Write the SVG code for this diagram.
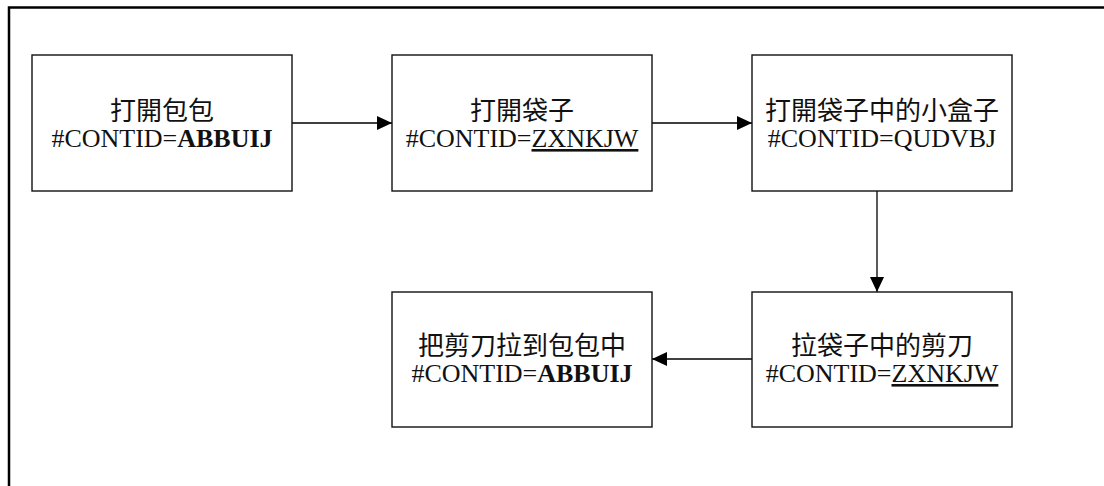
<svg xmlns="http://www.w3.org/2000/svg" width="1104" height="486" viewBox="0 0 1104 486">
<style>
.box{fill:#fff;stroke:#111;stroke-width:1.4}
.t{font-family:"Liberation Serif","Noto Sans CJK TC",serif;font-size:26px;fill:#111;text-anchor:middle}
.b{font-weight:bold}
.c{stroke:#000;stroke-width:1.3;fill:none}
</style>
<defs>
<marker id="ah" viewBox="0 0 15 14" refX="15" refY="7" markerWidth="15" markerHeight="14" markerUnits="userSpaceOnUse" orient="auto">
<path d="M0,0 L15,7 L0,14 Z" fill="#000"/>
</marker>
</defs>
<rect width="1104" height="486" fill="#fff"/>
<path d="M9,486 V7.5 H1104" fill="none" stroke="#000" stroke-width="2.5"/>
<g id="connectors">
<line class="c" x1="292" y1="123" x2="392" y2="123" marker-end="url(#ah)"/>
<line class="c" x1="652" y1="123" x2="752" y2="123" marker-end="url(#ah)"/>
<line class="c" x1="877" y1="191" x2="877" y2="292" marker-end="url(#ah)"/>
<line class="c" x1="752" y1="359" x2="652" y2="359" marker-end="url(#ah)"/>
</g>
<g id="n1">
<rect class="box" x="32" y="55" width="260" height="136"/>
<text class="t" x="162" y="120">打開包包</text>
<text class="t" x="162" y="147">#CONTID=<tspan class="b">ABBUIJ</tspan></text>
</g>
<g id="n2">
<rect class="box" x="392" y="55" width="260" height="136"/>
<text class="t" x="522" y="120">打開袋子</text>
<text class="t" x="522" y="147">#CONTID=<tspan text-decoration="underline">ZXNKJW</tspan></text>
</g>
<g id="n3">
<rect class="box" x="752" y="55" width="260" height="136"/>
<text class="t" x="882" y="120">打開袋子中的小盒子</text>
<text class="t" x="882" y="147">#CONTID=QUDVBJ</text>
</g>
<g id="n4">
<rect class="box" x="392" y="292" width="260" height="135"/>
<text class="t" x="522" y="355">把剪刀拉到包包中</text>
<text class="t" x="522" y="382">#CONTID=<tspan class="b">ABBUIJ</tspan></text>
</g>
<g id="n5">
<rect class="box" x="752" y="292" width="260" height="135"/>
<text class="t" x="882" y="355">拉袋子中的剪刀</text>
<text class="t" x="882" y="382">#CONTID=<tspan text-decoration="underline">ZXNKJW</tspan></text>
</g>
</svg>
